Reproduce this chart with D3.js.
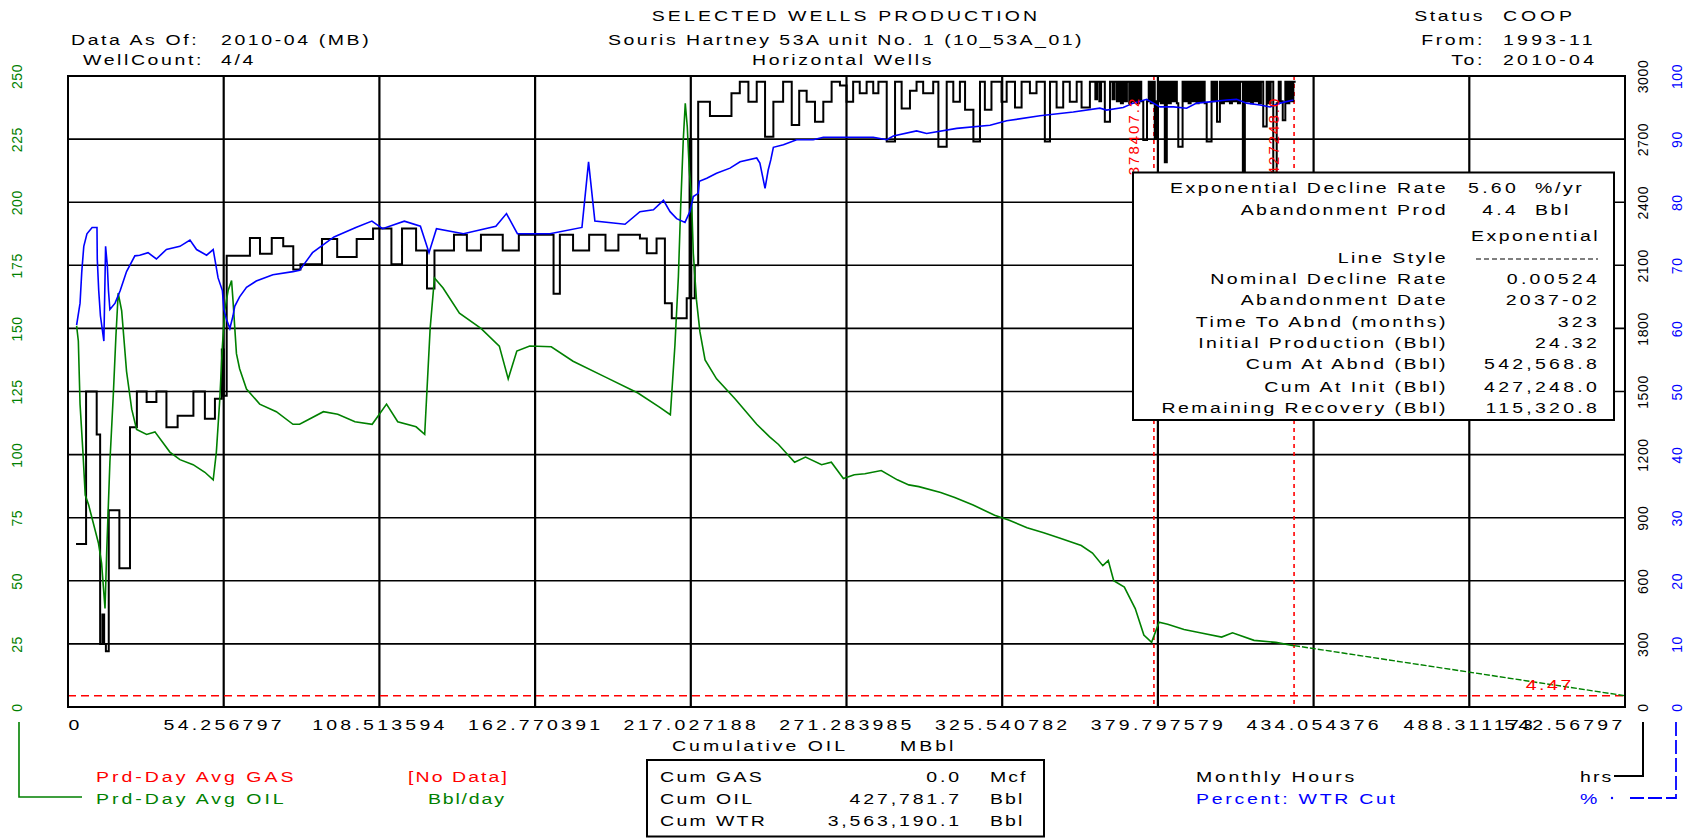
<!DOCTYPE html>
<html>
<head>
<meta charset="utf-8">
<script src="https://cdn.jsdelivr.net/npm/d3@7"></script>
<style>
  body { margin: 0; background: #fff; }
  text { font-family: "Liberation Sans", Arial, sans-serif; }
</style>
</head>
<body>
<svg id="chart" width="1690" height="838"></svg>
<script>
// ---- data ----
const xTicks = d3.range(11).map(i => i * 54.256797);
const xTickLabels = ['0', '54.256797', '108.513594', '162.770391', '217.027188', '271.283985',
  '325.540782', '379.797579', '434.054376', '488.311173', '542.56797'];
const rateTicks = [0, 25, 50, 75, 100, 125, 150, 175, 200, 225, 250];
const hoursTicks = [0, 300, 600, 900, 1200, 1500, 1800, 2100, 2400, 2700, 3000];
const pctTicks = [0, 10, 20, 30, 40, 50, 60, 70, 80, 90, 100];

// Prd-Day Avg OIL (bbl/day) vs cumulative oil (MBbl)
const oilRate = [
  [3.0, 151], [3.6, 145], [4.2, 120], [5.2, 101], [6.0, 84], [7.2, 80], [10.6, 65], [11.7, 57],
  [12.9, 39], [13.5, 62], [14.6, 97], [15.8, 124], [16.7, 147], [17.5, 164], [18.7, 157], [20.4, 133],
  [22.2, 118], [23.9, 110], [27.4, 108], [30.3, 109], [35.5, 101], [39.0, 98], [43.6, 96], [47.7, 93],
  [50.6, 90], [51.7, 101], [52.9, 122], [53.8, 143], [54.6, 157], [55.8, 165], [57.0, 169], [57.5, 161],
  [58.7, 140], [59.8, 134], [62.2, 126], [66.8, 120], [72.6, 117], [78.4, 112], [80.7, 112], [84, 114],
  [89, 117], [94, 116], [100, 113], [106, 112], [111, 120], [114.9, 113], [121.3, 111], [124.3, 108],
  [126.2, 150], [127.7, 170], [130.7, 166], [136.4, 156], [143.9, 150], [150.3, 143], [153.4, 130],
  [156.4, 141], [160.9, 143], [168.4, 142.7], [176.0, 137], [187.3, 130.7], [198.6, 124.4],
  [206.1, 118.8], [209.9, 115.8], [211.5, 143.4], [212.7, 170.5], [213.5, 198.2], [214.4, 224.6],
  [215.1, 239.2], [215.8, 229.9], [216.5, 212.8], [217.3, 200.9], [217.9, 179.8], [219.0, 161.3],
  [220.2, 148.7], [222.0, 137.5], [226, 130], [232.5, 122], [240, 112], [244.5, 107], [247.6, 104],
  [253.2, 97], [257, 99], [262.6, 96], [266, 97], [270.2, 90.5], [274, 92], [277.7, 92.4], [283.4, 93.7],
  [289, 90], [293, 88], [296.5, 87.3], [304.1, 85], [309, 83], [315.4, 80], [322.9, 76], [328, 74],
  [334.2, 71], [340, 69], [345.5, 67], [353.1, 64], [357, 61], [360.6, 56], [362.5, 58], [364.4, 50],
  [368.1, 47.5], [371.9, 39], [374.9, 28.5], [377.6, 25.6], [380.2, 33.6], [383.2, 32.8], [388.9, 30.7],
  [394.5, 29.4], [402.0, 27.7], [405.8, 29.4], [413.3, 26.4], [420.9, 25.6], [427.2, 24.3]
];

// exponential forecast
const forecast = [[427.248, 24.32], [542.568, 4.47]];
const abandonRate = 4.47;
const markerCums = [378.4072, 427.248];
const markerLabels = ['378407.2', '427248.0'];

// Percent WTR cut
const wtrCut = [
  [3.0, 60.5], [4.2, 64], [4.8, 69], [5.5, 73], [6.6, 75], [8.4, 76], [10.1, 76], [10.2, 71], [10.7, 66],
  [11.3, 62], [12.5, 58], [13.1, 73], [13.7, 70], [14.1, 66], [14.6, 63], [16.4, 64], [18.2, 66],
  [20.4, 69], [23.3, 71.5], [25.0, 71.6], [27.9, 72], [30.8, 71], [34.3, 72.5], [39.0, 73], [42.5, 74],
  [44.8, 72.5], [48.3, 71.6], [50.6, 72.5], [52.3, 68], [53.8, 66], [54.3, 63], [55.2, 61.5], [56.4, 60],
  [57.5, 62], [58.1, 63.5], [59.8, 65], [62.2, 66.5], [65.6, 67.5], [71.4, 68.5], [78.4, 69], [80.7, 69.2],
  [85.2, 72], [92.7, 74.5], [100.3, 76], [105.9, 77], [109.6, 75.8], [117.2, 77], [122.8, 76.2],
  [125.8, 72], [128.4, 75.8], [137.8, 75], [149.1, 76.2], [152.8, 78.2], [156.6, 75], [167.9, 75],
  [179.1, 76], [181.4, 86.4], [183.6, 77], [194.1, 76.5], [199.3, 78.5], [204.0, 78.8], [207.5, 80.3],
  [209.8, 78.5], [212.1, 77.4], [215.0, 76.8], [216.7, 78.5], [217.9, 80.9], [219.6, 81.4], [220.0, 83.3],
  [222.6, 83.8], [226.0, 84.6], [230.7, 85.4], [234.2, 86.4], [240.0, 87.0], [241.1, 86.2], [242.9, 82.2],
  [244.0, 85.1], [244.9, 86.7], [245.8, 88.7], [249.3, 89.1], [253.9, 89.9], [259.7, 89.9], [263.2, 90.3],
  [280.6, 90.3], [285.3, 89.9], [287.6, 90.5], [295.7, 91.3], [299.2, 90.9], [309.7, 91.7], [321.3, 92.2],
  [327.1, 92.9], [338.7, 93.7], [350.3, 94.3], [359.6, 94.9], [361.9, 94.6], [367.7, 95.0], [371.2, 95.7],
  [375.9, 96.3], [380.5, 95.1], [385.2, 95.1], [389.8, 94.9], [393.3, 95.7], [397.9, 95.9], [403.8, 96.2],
  [407.2, 96.3], [410.7, 95.7], [415.4, 95.4], [418.9, 95.1], [422.4, 95.7], [427.0, 96.2]
];

// Monthly hours (step)
const monthlyHours = [
  [2.8, 775], [6.3, 1500], [10.0, 1295], [11.2, 300], [12.0, 440], [12.6, 300], [13.2, 265], [14.2, 935],
  [17.9, 660], [21.6, 1330], [24.0, 1500], [27.4, 1450], [30.8, 1500], [34.3, 1330], [38.2, 1385],
  [43.7, 1500], [47.7, 1370], [51.2, 1465], [53.6, 1700], [54.3, 1480], [55.3, 2145], [63.4, 2230],
  [66.9, 2155], [71.0, 2230], [75.0, 2190], [78.5, 2080], [81.0, 2105], [88.5, 2225], [93.8, 2140],
  [100.6, 2225], [106.3, 2275], [112.7, 2105], [116.4, 2275], [121.3, 2170], [125.1, 1990], [127.7, 2170],
  [134.5, 2245], [139.0, 2170], [143.9, 2245], [151.5, 2170], [157.1, 2245], [169.2, 1965], [171.4, 2245],
  [176.0, 2170], [181.6, 2245], [187.3, 2170], [191.8, 2245], [199.3, 2228], [201.7, 2157], [205.1, 2228],
  [208.0, 1920], [210.4, 1848], [215.6, 1943], [216.6, 2700], [217.2, 1943], [218.4, 2100], [219.6, 2878],
  [223.7, 2810], [231.2, 2918], [234.1, 2973], [237.1, 2878], [240.0, 2973], [242.9, 2711], [245.8, 2878],
  [249.2, 2973], [252.2, 2767], [254.8, 2930], [257.4, 2878], [260.3, 2783], [263.2, 2878], [266.1, 2973],
  [269.0, 2955], [271.3, 2878], [273.6, 2973], [275.9, 2918], [278.3, 2973], [280.6, 2918], [282.4, 2973],
  [285.3, 2688], [288.2, 2973], [290.5, 2845], [293.4, 2930], [295.7, 2973], [298.0, 2918], [301.5, 2973],
  [303.3, 2664], [306.2, 2973], [308.5, 2878], [310.8, 2973], [312.6, 2840], [315.5, 2688], [317.8, 2973],
  [319.5, 2840], [321.8, 2973], [325.3, 2878], [327.1, 2973], [330.0, 2850], [332.3, 2973], [335.2, 2918],
  [337.5, 2973], [340.4, 2688], [342.2, 2973], [344.5, 2850], [346.8, 2973], [349.1, 2878], [351.5, 2973],
  [353.2, 2850], [356.1, 2973], [358.0, 2890], [358.6, 2973], [359.4, 2880], [360.0, 2973], [361.3, 2783],
  [363.1, 2973], [364.0, 2890], [364.7, 2973], [365.5, 2880], [366.2, 2973], [366.9, 2870], [367.6, 2973],
  [368.3, 2880], [369.0, 2973], [369.8, 2870], [370.5, 2973], [371.2, 2880], [371.9, 2973], [372.6, 2870],
  [373.3, 2973], [374.0, 2880], [374.7, 2696], [376.0, 2880], [376.6, 2973], [377.3, 2870], [378.0, 2973],
  [378.7, 2700], [379.4, 2880], [380.1, 2973], [380.8, 2870], [381.5, 2973], [382.2, 2590], [382.9, 2973],
  [383.6, 2870], [384.3, 2973], [385.0, 2880], [385.7, 2973], [386.4, 2870], [386.9, 2664], [388.4, 2973],
  [389.1, 2880], [389.8, 2973], [390.5, 2870], [391.2, 2973], [391.9, 2880], [392.6, 2973], [393.3, 2870],
  [394.0, 2973], [394.7, 2880], [395.4, 2973], [396.1, 2870], [396.8, 2688], [398.5, 2973], [399.2, 2880],
  [399.9, 2973], [400.4, 2783], [401.4, 2973], [402.1, 2870], [402.8, 2973], [403.5, 2880], [404.2, 2973],
  [404.9, 2870], [405.6, 2973], [406.3, 2880], [407.0, 2973], [407.7, 2870], [408.4, 2973], [409.4, 2400],
  [410.1, 2973], [410.8, 2880], [411.5, 2973], [412.2, 2870], [412.9, 2973], [413.6, 2880], [414.3, 2973],
  [415.0, 2870], [415.7, 2973], [416.5, 2760], [417.7, 2973], [418.4, 2870], [419.1, 2973], [420.0, 2400],
  [421.2, 2870], [421.9, 2973], [422.6, 2880], [423.3, 2790], [424.2, 2973], [424.9, 2870], [425.6, 2973],
  [426.3, 2880], [427.0, 2973], [427.8, 2973]
];

// decline box rows: label, value, unit
const declineRows = [
  ['Exponential Decline Rate', '5.60', '%/yr'],
  ['Abandonment Prod', '4.4', 'Bbl'],
  ['', 'Exponential', ''],
  ['Line Style', '', ''],
  ['Nominal Decline Rate', '0.00524', ''],
  ['Abandonment Date', '2037-02', ''],
  ['Time To Abnd (months)', '323', ''],
  ['Initial Production (Bbl)', '24.32', ''],
  ['Cum At Abnd (Bbl)', '542,568.8', ''],
  ['Cum At Init (Bbl)', '427,248.0', ''],
  ['Remaining Recovery (Bbl)', '115,320.8', '']
];
const cumRows = [
  ['Cum GAS', '0.0', 'Mcf'],
  ['Cum OIL', '427,781.7', 'Bbl'],
  ['Cum WTR', '3,563,190.1', 'Bbl']
];

// ---- style ----
const RED = '#ff0000', GREEN = '#008000', BLUE = '#0000ff';
const SX = 1.3;
const M = { left: 68, right: 1625, top: 76, bottom: 707 };

const svg = d3.select('#chart');
svg.append('rect').attr('width', 1690).attr('height', 838).attr('fill', '#fff');

function label(g, x, y, str, o = {}) {
  return g.append('text')
    .attr('transform', `translate(${x},${y})` + (o.rot ? ` rotate(${o.rot})` : '') + ` scale(${o.sx ?? SX},1)`)
    .attr('text-anchor', o.anchor || 'start')
    .attr('font-size', o.size || 15)
    .attr('letter-spacing', o.ls ?? 2)
    .attr('fill', o.fill || '#000')
    .text(str);
}

const x = d3.scaleLinear().domain([0, 542.56797]).range([M.left, M.right]);
const yRate = d3.scaleLinear().domain([0, 250]).range([M.bottom, M.top]);
const yHours = d3.scaleLinear().domain([0, 3000]).range([M.bottom, M.top]);
const yPct = d3.scaleLinear().domain([0, 100]).range([M.bottom, M.top]);

// ---- header ----
const hdr = svg.append('g');
label(hdr, 846, 21, 'SELECTED WELLS PRODUCTION', { anchor: 'middle', ls: 2.4 });
label(hdr, 846, 45, 'Souris Hartney 53A unit No. 1 (10_53A_01)', { anchor: 'middle', ls: 1.9 });
label(hdr, 843, 65, 'Horizontal Wells', { anchor: 'middle' });
label(hdr, 71, 45, 'Data As Of:');
label(hdr, 221, 45, '2010-04 (MB)');
label(hdr, 83, 65, 'WellCount:');
label(hdr, 221, 65, '4/4');
label(hdr, 1485, 21, 'Status', { anchor: 'end' });
label(hdr, 1503, 21, 'COOP', { ls: 3 });
label(hdr, 1485, 45, 'From:', { anchor: 'end' });
label(hdr, 1503, 45, '1993-11', { ls: 2.5 });
label(hdr, 1485, 65, 'To:', { anchor: 'end' });
label(hdr, 1503, 65, '2010-04', { ls: 2.5 });

// ---- grid ----
const grid = svg.append('g').attr('stroke', '#000');
grid.selectAll('line.v').data(xTicks.slice(1, -1)).join('line')
  .attr('x1', d => x(d)).attr('x2', d => x(d)).attr('y1', M.top).attr('y2', M.bottom)
  .attr('stroke-width', 2.2);
grid.selectAll('line.h').data(rateTicks.slice(1, -1)).join('line')
  .attr('x1', M.left).attr('x2', M.right).attr('y1', d => yRate(d)).attr('y2', d => yRate(d))
  .attr('stroke-width', 1.6);

// ---- red reference lines ----
const ref = svg.append('g').attr('stroke', RED).attr('fill', 'none').attr('stroke-width', 1.6);
ref.append('line')
  .attr('x1', M.left).attr('x2', M.right)
  .attr('y1', yRate(abandonRate)).attr('y2', yRate(abandonRate))
  .attr('stroke-dasharray', '8,5');
ref.selectAll('line.m').data(markerCums).join('line')
  .attr('x1', d => x(d)).attr('x2', d => x(d)).attr('y1', M.top).attr('y2', M.bottom)
  .attr('stroke-dasharray', '4,4');

// ---- series ----
const plot = svg.append('g');
svg.append('clipPath').attr('id', 'clip').append('rect')
  .attr('x', M.left).attr('y', M.top).attr('width', M.right - M.left).attr('height', M.bottom - M.top);
plot.attr('clip-path', 'url(#clip)');

plot.append('path').datum(monthlyHours)
  .attr('fill', 'none').attr('stroke', '#000').attr('stroke-width', 2)
  .attr('d', d3.line().curve(d3.curveStepAfter).x(d => x(d[0])).y(d => yHours(d[1])));

plot.append('path').datum(oilRate)
  .attr('fill', 'none').attr('stroke', GREEN).attr('stroke-width', 1.6)
  .attr('d', d3.line().x(d => x(d[0])).y(d => yRate(d[1])));

plot.append('path').datum(forecast)
  .attr('fill', 'none').attr('stroke', GREEN).attr('stroke-width', 1.4)
  .attr('stroke-dasharray', '6,2')
  .attr('d', d3.line().x(d => x(d[0])).y(d => yRate(d[1])));

plot.append('path').datum(wtrCut)
  .attr('fill', 'none').attr('stroke', BLUE).attr('stroke-width', 1.6)
  .attr('d', d3.line().x(d => x(d[0])).y(d => yPct(d[1])));

// marker labels
markerCums.forEach((c, i) => {
  label(svg, x(c) - 15, 136, markerLabels[i], { rot: -90, anchor: 'middle', size: 15, ls: 2, sx: 1, fill: RED });
});
label(svg, 1574, 690, String(abandonRate), { anchor: 'end', fill: RED });

// frame
svg.append('rect')
  .attr('x', M.left).attr('y', M.top).attr('width', M.right - M.left).attr('height', M.bottom - M.top)
  .attr('fill', 'none').attr('stroke', '#000').attr('stroke-width', 2);

// ---- axes ----
const xAxis = svg.append('g').attr('transform', `translate(0,${M.bottom})`)
  .call(d3.axisBottom(x).tickValues(xTicks).tickSize(0).tickPadding(0)
    .tickFormat((d, i) => xTickLabels[i]));
xAxis.select('.domain').remove();
xAxis.selectAll('text')
  .attr('y', 23).attr('dy', null)
  .attr('font-size', 15).attr('font-family', null).attr('letter-spacing', 2.5)
  .attr('transform', `scale(${SX},1)`)
  .attr('text-anchor', (d, i) => i === 0 ? 'start' : i === xTicks.length - 1 ? 'end' : 'middle');

function sideAxis(axis, scale, ticks, xPos, color) {
  const g = svg.append('g').attr('transform', `translate(${xPos},0)`)
    .call(axis(scale).tickValues(ticks).tickSize(0).tickPadding(0).tickFormat(d3.format('d')));
  g.select('.domain').remove();
  g.selectAll('text')
    .attr('x', null).attr('dy', null)
    .attr('fill', color).attr('font-size', 14).attr('font-family', null).attr('letter-spacing', 0.6)
    .attr('text-anchor', 'middle').attr('transform', 'rotate(-90)');
}
sideAxis(d3.axisLeft, yRate, rateTicks, 22, GREEN);
sideAxis(d3.axisRight, yHours, hoursTicks, 1648, '#000');
sideAxis(d3.axisRight, yPct, pctTicks, 1682, BLUE);

label(svg, 672, 751, 'Cumulative OIL', { ls: 2.3 });
label(svg, 900, 751, 'MBbl', { ls: 2.3 });

// ---- decline box ----
const box = svg.append('g');
box.append('rect').attr('x', 1133).attr('y', 172.5).attr('width', 481).attr('height', 247.5)
  .attr('fill', '#fff').attr('stroke', '#000').attr('stroke-width', 2);
const rowY = [193, 215, 241, 263, 284, 305, 327, 348, 369, 392, 413];
declineRows.forEach((r, i) => {
  if (r[0]) label(box, 1448, rowY[i], r[0], { anchor: 'end', ls: 1.9 });
  if (i < 2) {
    label(box, 1519, rowY[i], r[1], { anchor: 'end', ls: 2.5 });
    label(box, 1535, rowY[i], r[2], { ls: 2 });
  } else if (r[1]) {
    label(box, 1600, rowY[i], r[1], { anchor: 'end', ls: r[1] === 'Exponential' ? 1.9 : 2.5 });
  }
});
box.append('line').attr('x1', 1476).attr('x2', 1598).attr('y1', 259).attr('y2', 259)
  .attr('stroke', '#000').attr('stroke-width', 1.2).attr('stroke-dasharray', '5,3');

// ---- bottom legends ----
const leg = svg.append('g');
leg.append('path').attr('d', 'M19,722V797H82').attr('fill', 'none').attr('stroke', GREEN).attr('stroke-width', 1.6);
label(leg, 96, 782, 'Prd-Day Avg GAS', { fill: RED, ls: 2.3 });
label(leg, 408, 782, '[No Data]', { fill: RED, ls: 1.6 });
label(leg, 96, 804, 'Prd-Day Avg OIL', { fill: GREEN, ls: 2.3 });
label(leg, 428, 804, 'Bbl/day', { fill: GREEN, ls: 1.4 });

leg.append('rect').attr('x', 647).attr('y', 760).attr('width', 397).attr('height', 76.5)
  .attr('fill', 'none').attr('stroke', '#000').attr('stroke-width', 2);
cumRows.forEach((r, i) => {
  const yy = 782 + i * 22;
  label(leg, 660, yy, r[0], { ls: 1.8 });
  label(leg, 962, yy, r[1], { anchor: 'end', ls: 2.2 });
  label(leg, 990, yy, r[2], { ls: 1.6 });
});

label(leg, 1196, 782, 'Monthly Hours', { ls: 2.1 });
label(leg, 1580, 782, 'hrs', { ls: 1.6 });
label(leg, 1196, 804, 'Percent: WTR Cut', { fill: BLUE, ls: 2.1 });
label(leg, 1580, 804, '%', { fill: BLUE, ls: 1.6 });
leg.append('path').attr('d', 'M1614,776H1643V722').attr('fill', 'none').attr('stroke', '#000').attr('stroke-width', 2);
leg.append('path').attr('d', 'M1630,798H1676V722').attr('fill', 'none').attr('stroke', BLUE).attr('stroke-width', 1.8)
  .attr('stroke-dasharray', '14,4');
leg.append('circle').attr('cx', 1612).attr('cy', 798).attr('r', 1.2).attr('fill', BLUE);
</script>
</body>
</html>
